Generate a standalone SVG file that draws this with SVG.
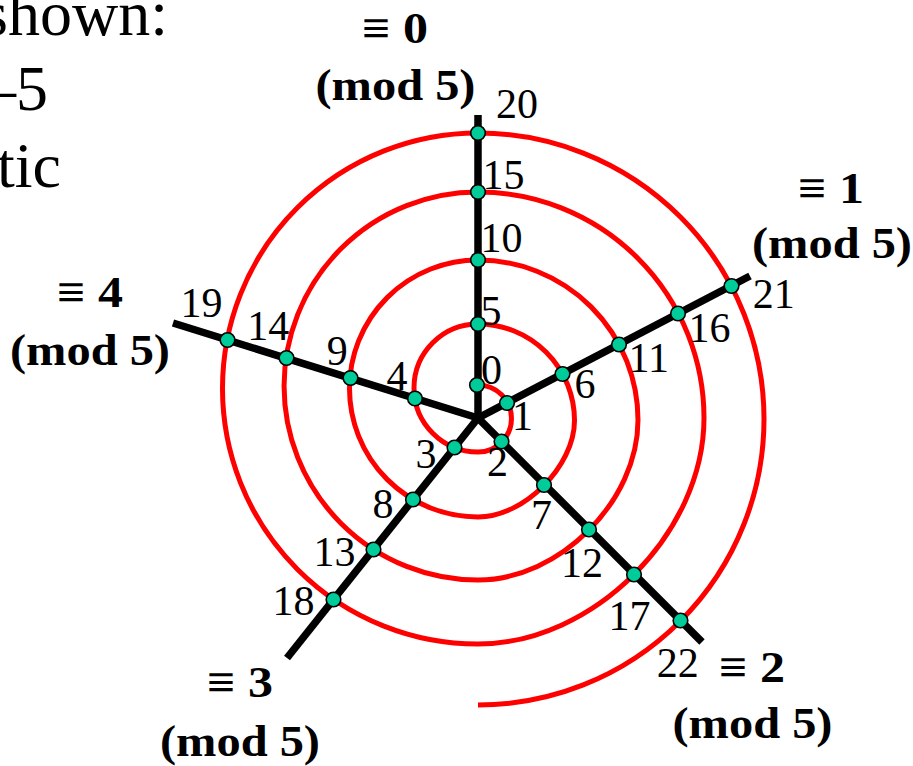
<svg xmlns="http://www.w3.org/2000/svg" width="913" height="766" viewBox="0 0 913 766">
<style>
.bg{fill:#ffffff}
.spiral{fill:none;stroke:#ff0000;stroke-width:5}
.spoke{stroke:#000000;stroke-width:7.5;stroke-linecap:butt}
.dot{fill:#00cc99;stroke:#000000;stroke-width:1.6}
.num{font-family:"Liberation Serif","Times New Roman",serif;font-size:42px;fill:#000000}
.cls{font-family:"Liberation Serif","Times New Roman","DejaVu Serif",serif;font-size:44px;font-weight:bold;fill:#000000;text-anchor:middle}
.side{font-family:"Liberation Serif","Times New Roman",serif;font-size:64px;fill:#000000;text-anchor:end}
</style>
<rect class="bg" x="0" y="0" width="913" height="766"/>
<g id="side-text">
<text class="side" x="168" y="35">shown:</text>
<text class="side" x="48" y="110">–5</text>
<text class="side" x="61" y="187">tic</text>
</g>
<g id="spiral">
<path class="spiral" d="M 478 385 A 33.5 33.5 0 0 1 478 452 A 64 64 0 0 1 478 324 A 96.5 96.5 0 0 1 574.5 420.5 C 574.5 466.4 523.9 517 478 517 A 128.5 128.5 0 0 1 478 260 A 160 160 0 0 1 638 420 C 638 501.4 559.4 580 478 580 A 194 194 0 0 1 478 192 A 226 226 0 0 1 704 418 C 704 533.3 593.3 644 478 644 A 255.5 255.5 0 0 1 478 133 A 286 286 0 0 1 478 705"/>
</g>
<g id="connectors">
<line class="spoke" x1="478" y1="418" x2="478" y2="115"/>
<line class="spoke" x1="478" y1="418" x2="750" y2="276"/>
<line class="spoke" x1="478" y1="418" x2="702" y2="642"/>
<line class="spoke" x1="478" y1="418" x2="287" y2="658"/>
<line class="spoke" x1="478" y1="418" x2="173" y2="323"/>
</g>
<g id="class0"><text class="cls" x="395" y="43" textLength="66" lengthAdjust="spacingAndGlyphs">≡ 0</text><text class="cls" x="395.5" y="100" textLength="160" lengthAdjust="spacingAndGlyphs">(mod 5)</text></g>
<g id="class1"><text class="cls" x="831" y="203" textLength="66" lengthAdjust="spacingAndGlyphs">≡ 1</text><text class="cls" x="832" y="258" textLength="160" lengthAdjust="spacingAndGlyphs">(mod 5)</text></g>
<g id="class2"><text class="cls" x="752" y="682" textLength="66" lengthAdjust="spacingAndGlyphs">≡ 2</text><text class="cls" x="752.5" y="738" textLength="160" lengthAdjust="spacingAndGlyphs">(mod 5)</text></g>
<g id="class3"><text class="cls" x="240" y="697" textLength="66" lengthAdjust="spacingAndGlyphs">≡ 3</text><text class="cls" x="240" y="756" textLength="160" lengthAdjust="spacingAndGlyphs">(mod 5)</text></g>
<g id="class4"><text class="cls" x="90" y="307" textLength="66" lengthAdjust="spacingAndGlyphs">≡ 4</text><text class="cls" x="90" y="365" textLength="160" lengthAdjust="spacingAndGlyphs">(mod 5)</text></g>
<g id="n0"><text class="num" x="481" y="384">0</text><circle class="dot" cx="477" cy="385" r="7.3"/></g>
<g id="n1"><text class="num" x="512" y="430">1</text><circle class="dot" cx="507" cy="403" r="7.3"/></g>
<g id="n2"><text class="num" x="487" y="476">2</text><circle class="dot" cx="501.5" cy="441.5" r="7.3"/></g>
<g id="n3"><text class="num" x="415.5" y="468">3</text><circle class="dot" cx="454.5" cy="447.5" r="7.3"/></g>
<g id="n4"><text class="num" x="386.5" y="390">4</text><circle class="dot" cx="415" cy="398.5" r="7.3"/></g>
<g id="n5"><text class="num" x="480.5" y="325">5</text><circle class="dot" cx="478" cy="324" r="7.3"/></g>
<g id="n6"><text class="num" x="574.5" y="398">6</text><circle class="dot" cx="562.5" cy="374" r="7.3"/></g>
<g id="n7"><text class="num" x="531" y="529">7</text><circle class="dot" cx="544" cy="485" r="7.3"/></g>
<g id="n8"><text class="num" x="372.5" y="518">8</text><circle class="dot" cx="413" cy="499.5" r="7.3"/></g>
<g id="n9"><text class="num" x="326.7" y="365">9</text><circle class="dot" cx="350.5" cy="378" r="7.3"/></g>
<g id="n10"><text class="num" x="480.6" y="252">10</text><circle class="dot" cx="478" cy="260" r="7.3"/></g>
<g id="n11"><text class="num" x="628.6" y="372">11</text><circle class="dot" cx="619" cy="344.5" r="7.3"/></g>
<g id="n12"><text class="num" x="561" y="577">12</text><circle class="dot" cx="589" cy="529.5" r="7.3"/></g>
<g id="n13"><text class="num" x="313.6" y="566">13</text><circle class="dot" cx="373.5" cy="549.5" r="7.3"/></g>
<g id="n14"><text class="num" x="247.3" y="340">14</text><circle class="dot" cx="286.5" cy="358" r="7.3"/></g>
<g id="n15"><text class="num" x="482.6" y="189">15</text><circle class="dot" cx="478" cy="192" r="7.3"/></g>
<g id="n16"><text class="num" x="688.6" y="342">16</text><circle class="dot" cx="678" cy="313.5" r="7.3"/></g>
<g id="n17"><text class="num" x="608.6" y="630">17</text><circle class="dot" cx="634" cy="574.5" r="7.3"/></g>
<g id="n18"><text class="num" x="272.6" y="615">18</text><circle class="dot" cx="333.5" cy="599.5" r="7.3"/></g>
<g id="n19"><text class="num" x="180.6" y="317">19</text><circle class="dot" cx="227.5" cy="340" r="7.3"/></g>
<g id="n20"><text class="num" x="496" y="118">20</text><circle class="dot" cx="478" cy="133" r="7.3"/></g>
<g id="n21"><text class="num" x="752.8" y="308">21</text><circle class="dot" cx="731.5" cy="286" r="7.3"/></g>
<g id="n22"><text class="num" x="656.8" y="677">22</text><circle class="dot" cx="680.5" cy="620.5" r="7.3"/></g>
</svg>
